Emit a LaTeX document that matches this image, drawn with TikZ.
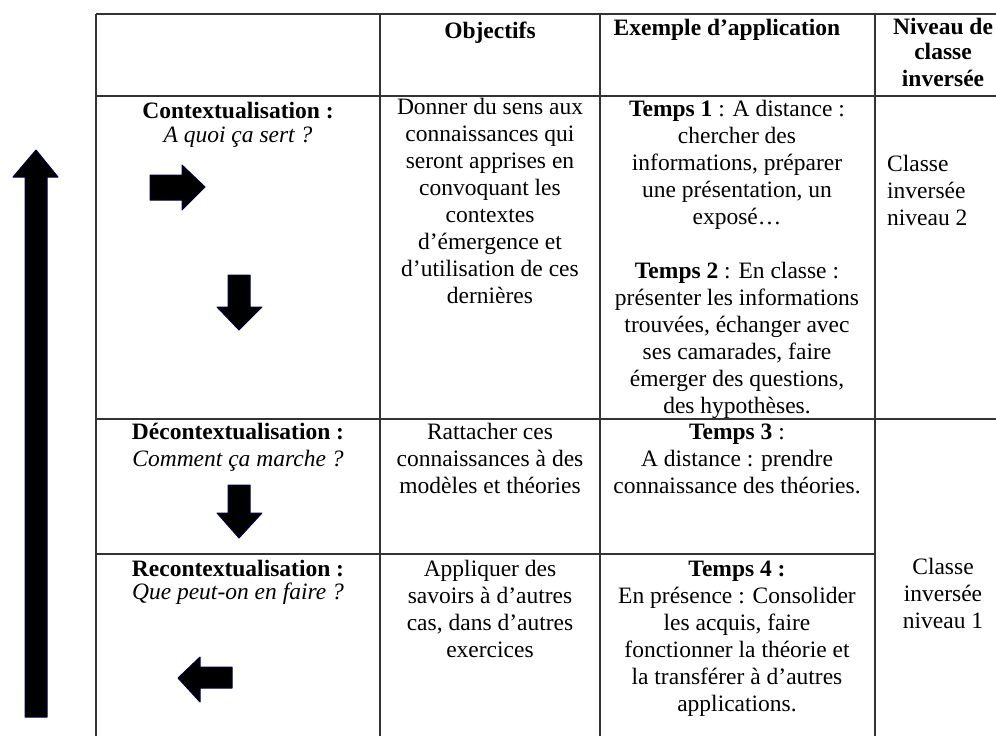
\documentclass[tikz,border=0pt]{standalone}
\usepackage{fontspec}
\setmainfont{Liberation Serif}
\begin{document}
\begin{tikzpicture}[x=1pt,y=-1pt,
  txt/.style={font=\fontsize{23.5}{27}\selectfont, inner sep=0pt, align=center, anchor=base},
  txtl/.style={font=\fontsize{23.5}{27}\selectfont, inner sep=0pt, align=left, anchor=base west},
  grid/.style={line width=1.6pt, draw=black!80},
  arr/.style={fill=black, draw=black!75!blue, line width=1pt, line join=round}]
\useasboundingbox (0,0) rectangle (996,736);
% grid
\draw[grid] (96,14) -- (996,14);
\draw[grid] (96,96) -- (996,96);
\draw[grid] (96,419) -- (996,419);
\draw[grid] (96,554) -- (875,554);
\draw[grid] (96,14) -- (96,736);
\draw[grid] (380,14) -- (380,736);
\draw[grid] (600,14) -- (600,736);
\draw[grid] (875,14) -- (875,736);
% header (anchor = baseline of the last line)
\node[txt] (h2) at (490,38) {\textbf{Objectifs}};
\node[txt] (h3) at (727,35) {\textbf{Exemple d’application}};
\node[txt] (h4) at (943,86) {\textbf{Niveau de}\\[-2pt]\textbf{classe}\\\textbf{inversée}};
% row 1
\node[txt] (r1c1) at (238,142) {\textbf{Contextualisation :}\\[-3pt]\textit{A quoi ça sert ?}};
\node[txt] (r1c2) at (490,303) {Donner du sens aux\\connaissances qui\\seront apprises en\\convoquant les\\contextes\\d’émergence et\\d’utilisation de ces\\dernières};
\node[txt] (r1c3) at (737,413) {\textbf{Temps 1} : A distance :\\chercher des\\informations, préparer\\une présentation, un\\exposé…\\[27pt]\textbf{Temps 2} : En classe :\\présenter les informations\\trouvées, échanger avec\\ses camarades, faire\\émerger des questions,\\des hypothèses.};
\node[txtl] (r1c4) at (887,225) {Classe\\inversée\\niveau 2};
% row 2
\node[txt] (r2c1) at (238,466) {\textbf{Décontextualisation :}\\\textit{Comment ça marche ?}};
\node[txt] (r2c2) at (490,493) {Rattacher ces\\connaissances à des\\modèles et théories};
\node[txt] (r2c3) at (737,493) {\textbf{Temps 3} :\\A distance : prendre\\connaissance des théories.};
% row 3
\node[txt] (r3c1) at (238,599) {\textbf{Recontextualisation :}\\[-4pt]\textit{Que peut-on en faire ?}};
\node[txt] (r3c2) at (490,657) {Appliquer des\\savoirs à d’autres\\cas, dans d’autres\\exercices};
\node[txt] (r3c3) at (737,711) {\textbf{Temps 4 :}\\En présence : Consolider\\les acquis, faire\\fonctionner la théorie et\\la transférer à d’autres\\applications.};
\node[txt] (r3c4) at (943,628) {Classe\\inversée\\niveau 1};
% arrows
\filldraw[arr] (25,717) -- (25,177) -- (13,177) -- (36,150) -- (58,177) -- (47,177) -- (47,717) -- cycle;
\filldraw[arr] (150,175) -- (182,175) -- (182,165) -- (205,187) -- (182,210) -- (182,200) -- (150,200) -- cycle;
\filldraw[arr] (228,275) -- (250,275) -- (250,307) -- (262,307) -- (239,330) -- (217,307) -- (228,307) -- cycle;
\filldraw[arr] (228,485) -- (250,485) -- (250,513) -- (262,513) -- (239,538) -- (217,513) -- (228,513) -- cycle;
\filldraw[arr] (232,667) -- (200,667) -- (200,657) -- (178,678) -- (200,702) -- (200,688) -- (232,688) -- cycle;
\end{tikzpicture}
\end{document}
